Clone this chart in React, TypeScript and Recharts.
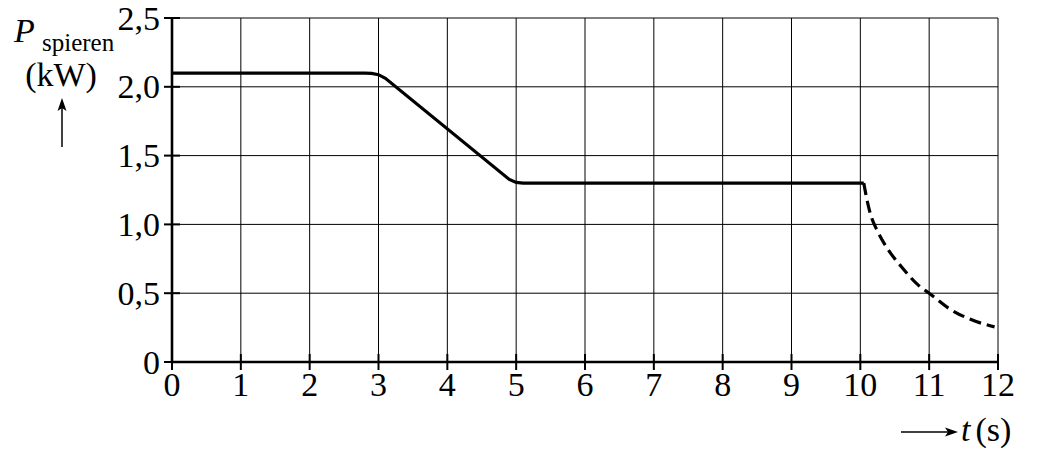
import React from "react";
import { LineChart, Line, XAxis, YAxis, CartesianGrid } from "recharts";

const T_SOLID = [0, 2.8, 2.9, 3.0, 3.1, 4.9, 5.0, 5.1, 10.05];
const P_SOLID = [2.1, 2.1, 2.097, 2.088, 2.062, 1.327, 1.305, 1.3, 1.3];
const T_DASHED = [10.05, 10.1, 10.15, 10.25, 10.4, 10.6, 10.85, 11, 11.3, 11.6, 11.95];
const P_DASHED = [1.3, 1.17, 1.07, 0.95, 0.82, 0.69, 0.555, 0.5, 0.385, 0.31, 0.255];
const X_TICKS = [0, 1, 2, 3, 4, 5, 6, 7, 8, 9, 10, 11, 12];
const Y_TICKS = [0, 0.5, 1, 1.5, 2, 2.5];

const solidData = T_SOLID.map((t, i) => ({ t, p: P_SOLID[i] }));
const dashedData = T_DASHED.map((t, i) => ({ t, p: P_DASHED[i] }));

const FONT = "'Liberation Serif', 'Times New Roman', Times, serif";
const TICK_SIZE = 8;
const TICK_MARGIN = 4;

const fmtY = (v: number) => (v === 0 ? "0" : v.toFixed(1).replace(".", ","));

const txt = (size: number, italic = false): React.CSSProperties => ({
  fontFamily: FONT,
  fontSize: size,
  fontStyle: italic ? "italic" : "normal",
  fill: "#000",
});

const XTick = (props: any) => {
  const { x, y, payload } = props;
  const axisY = y - TICK_SIZE - TICK_MARGIN;
  return (
    <g>
      <line x1={x} x2={x} y1={axisY - TICK_SIZE} y2={axisY} stroke="#000" strokeWidth={2} />
      <text x={x} y={y + 22} textAnchor="middle" style={txt(34)}>
        {String(payload.value)}
      </text>
    </g>
  );
};

const YTick = (props: any) => {
  const { x, y, payload } = props;
  const axisX = x + TICK_SIZE + TICK_MARGIN;
  return (
    <g>
      <line x1={axisX} x2={axisX + TICK_SIZE} y1={y} y2={y} stroke="#000" strokeWidth={2} />
      <text x={x} y={y + 11.5} textAnchor="end" style={txt(34)}>
        {fmtY(payload.value)}
      </text>
    </g>
  );
};

export default function App() {
  return (
    <div style={{ position: "absolute", left: 0, top: 0, width: 1042, height: 472, background: "#fff", fontFamily: FONT }}>
      <LineChart
        width={1042}
        height={472}
        margin={{ top: 18, right: 44, bottom: 70, left: 112 }}
        style={{ fontFamily: FONT }}
      >
        <CartesianGrid stroke="#000" strokeWidth={1} horizontalValues={Y_TICKS} verticalValues={X_TICKS} />
        <XAxis
          type="number"
          dataKey="t"
          domain={[0, 12]}
          ticks={X_TICKS}
          interval={0}
          height={40}
          tickSize={TICK_SIZE}
          tickMargin={TICK_MARGIN}
          axisLine={{ stroke: "#000", strokeWidth: 2.6 }}
          tickLine={{ stroke: "#000", strokeWidth: 2 }}
          tick={<XTick />}
          allowDataOverflow
        />
        <YAxis
          type="number"
          domain={[0, 2.5]}
          ticks={Y_TICKS}
          interval={0}
          width={60}
          tickSize={TICK_SIZE}
          tickMargin={TICK_MARGIN}
          axisLine={{ stroke: "#000", strokeWidth: 2.6 }}
          tickLine={{ stroke: "#000", strokeWidth: 2 }}
          tick={<YTick />}
          allowDataOverflow
        />
        <Line
          data={solidData}
          dataKey="p"
          type="linear"
          stroke="#000"
          strokeWidth={3.2}
          dot={false}
          activeDot={false}
          isAnimationActive={false}
        />
        <Line
          data={dashedData}
          dataKey="p"
          type="monotone"
          stroke="#000"
          strokeWidth={3.2}
          strokeDasharray="12 6"
          dot={false}
          activeDot={false}
          isAnimationActive={false}
        />
      </LineChart>
      <svg
        width={1042}
        height={472}
        style={{ position: "absolute", left: 0, top: 0, pointerEvents: "none" }}
      >
        <text x={14} y={42} style={txt(34, true)}>P</text>
        <text x={42} y={51} style={txt(25)}>spieren</text>
        <text x={61} y={86} textAnchor="middle" style={txt(34)}>(kW)</text>
        <line x1={62} x2={62} y1={147} y2={106} stroke="#000" strokeWidth={1.5} />
        <polygon points="62,98 57.5,111 62,108 66.5,111" fill="#000" />
        <line x1={901} x2={950} y1={432} y2={432} stroke="#000" strokeWidth={1.5} />
        <polygon points="958,432 945,427.5 948,432 945,436.5" fill="#000" />
        <text x={961} y={441} style={txt(34)}>
          <tspan style={{ fontStyle: "italic" }}>t</tspan>
          <tspan dx={5}>(s)</tspan>
        </text>
      </svg>
    </div>
  );
}
